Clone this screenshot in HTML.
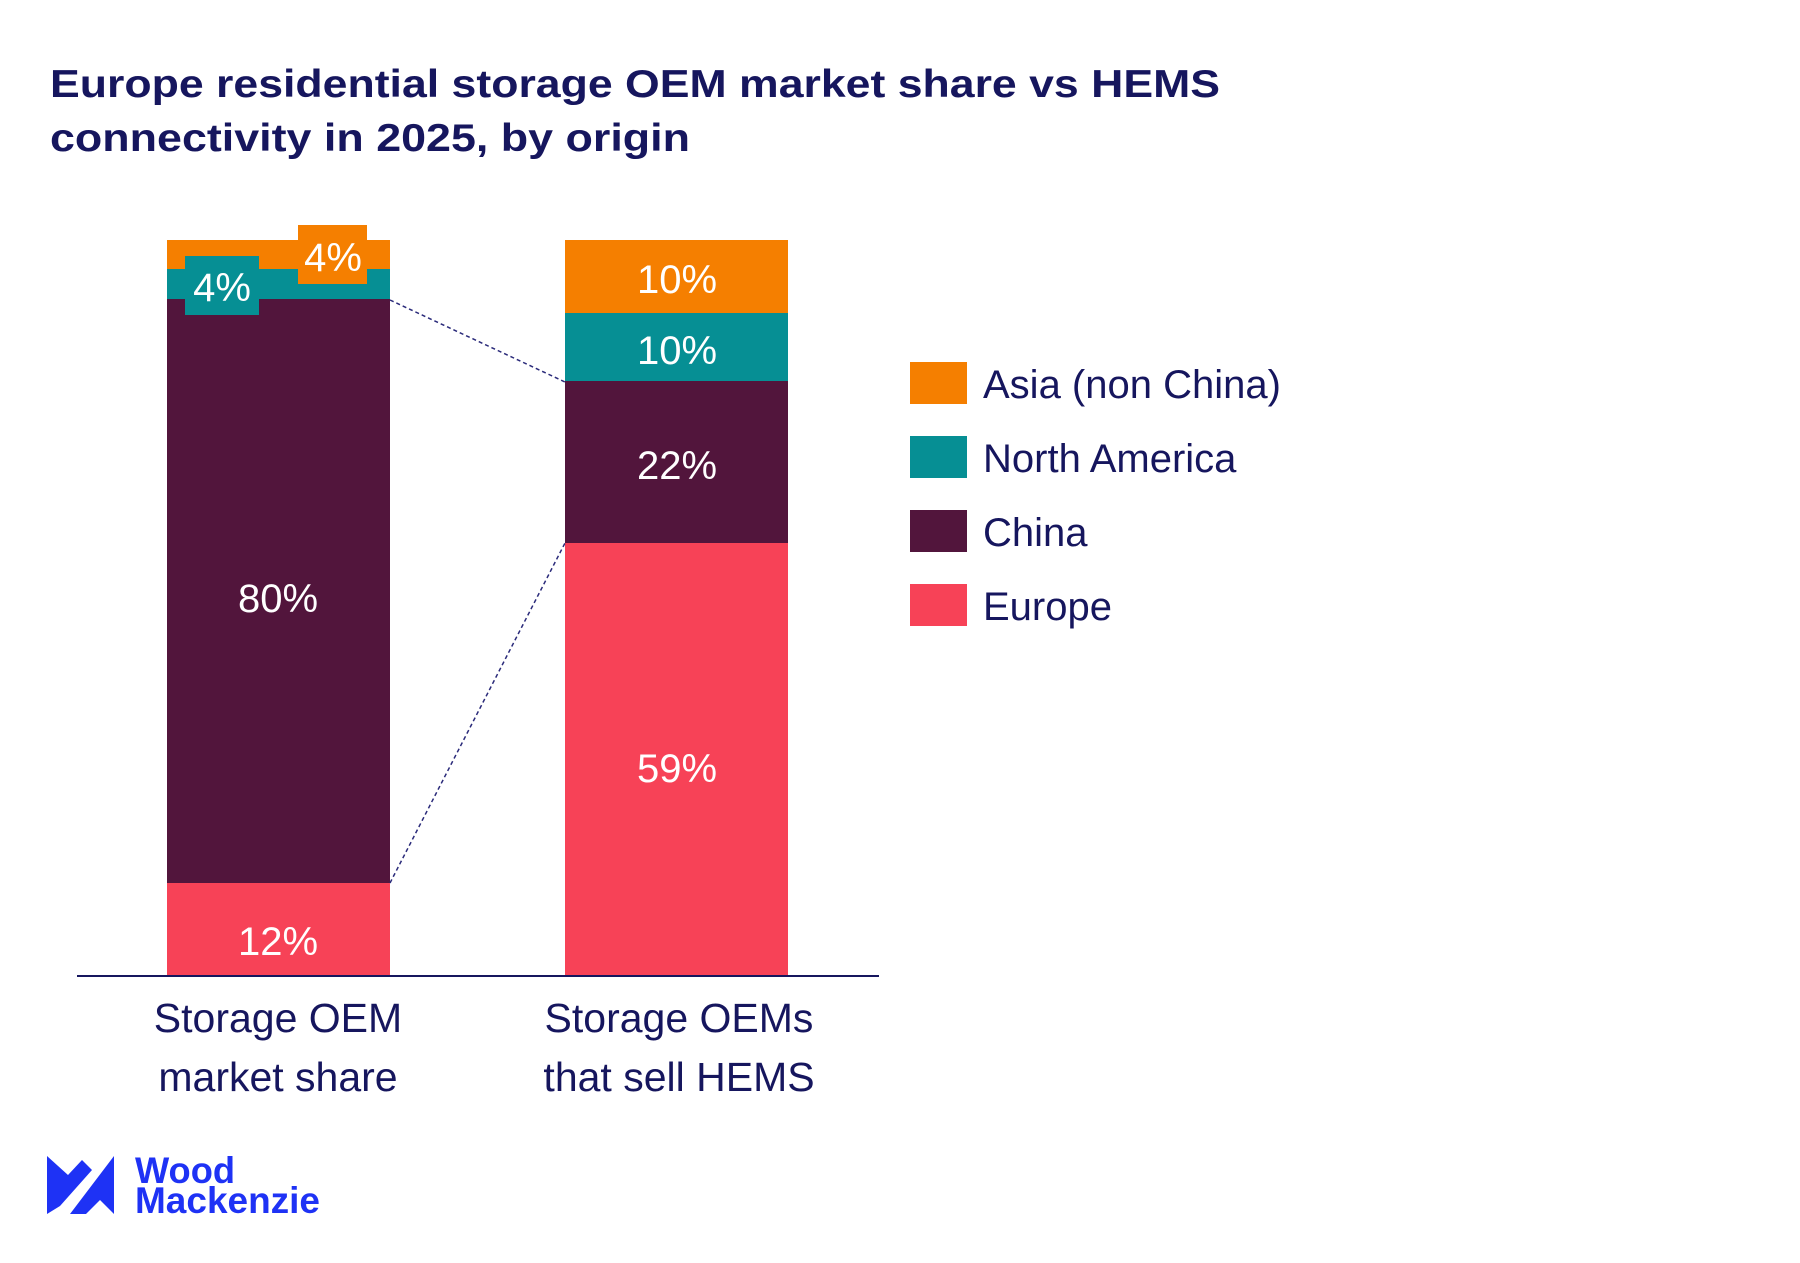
<!DOCTYPE html>
<html><head><style>
body{margin:0;background:#fff;}
svg text{font-family:"Liberation Sans",Arial,sans-serif;}
</style></head><body>
<svg width="1800" height="1258" viewBox="0 0 1800 1258" xmlns="http://www.w3.org/2000/svg">
<rect width="1800" height="1258" fill="#fff"/>
<text x="50" y="97" font-size="39" font-weight="bold" fill="#16165e" textLength="1170" lengthAdjust="spacingAndGlyphs">Europe residential storage OEM market share vs HEMS</text>
<text x="50" y="151" font-size="39" font-weight="bold" fill="#16165e" textLength="640" lengthAdjust="spacingAndGlyphs">connectivity in 2025, by origin</text>
<!-- left bar -->
<rect x="167" y="240" width="223" height="30" fill="#f57f00"/>
<rect x="167" y="269" width="223" height="31" fill="#068f94"/>
<rect x="167" y="299" width="223" height="585" fill="#52153c"/>
<rect x="167" y="883" width="223" height="92" fill="#f74257"/>
<rect x="185" y="256" width="74" height="59" fill="#068f94"/>
<rect x="298" y="225" width="69" height="59" fill="#f57f00"/>
<g fill="#fff" font-size="40" text-anchor="middle">
<text x="222" y="301">4%</text>
<text x="333" y="271">4%</text>
<text x="278" y="612">80%</text>
<text x="278" y="955">12%</text>
</g>
<!-- right bar -->
<rect x="565" y="240" width="223" height="74" fill="#f57f00"/>
<rect x="565" y="313" width="223" height="69" fill="#068f94"/>
<rect x="565" y="381" width="223" height="163" fill="#52153c"/>
<rect x="565" y="543" width="223" height="432" fill="#f74257"/>
<g fill="#fff" font-size="40" text-anchor="middle">
<text x="677" y="293">10%</text>
<text x="677" y="364">10%</text>
<text x="677" y="479">22%</text>
<text x="677" y="782">59%</text>
</g>
<line x1="390" y1="300" x2="565" y2="382" stroke="#2a2a7a" stroke-width="1.5" stroke-dasharray="4,3"/>
<line x1="390" y1="883" x2="565" y2="543" stroke="#2a2a7a" stroke-width="1.5" stroke-dasharray="4,3"/>
<line x1="77" y1="976" x2="879" y2="976" stroke="#16165e" stroke-width="2"/>
<g fill="#16165e" font-size="41" text-anchor="middle">
<text x="278" y="1032">Storage OEM</text>
<text x="278" y="1091">market share</text>
<text x="679" y="1032">Storage OEMs</text>
<text x="679" y="1091">that sell HEMS</text>
</g>
<!-- legend -->
<rect x="910" y="362" width="57" height="42" fill="#f57f00"/>
<rect x="910" y="436" width="57" height="42" fill="#068f94"/>
<rect x="910" y="510" width="57" height="42" fill="#52153c"/>
<rect x="910" y="584" width="57" height="42" fill="#f74257"/>
<g fill="#16165e" font-size="40">
<text x="983" y="398">Asia (non China)</text>
<text x="983" y="472">North America</text>
<text x="983" y="546">China</text>
<text x="983" y="620">Europe</text>
</g>
<!-- logo -->
<polygon points="47,1156 68,1175 82,1160 92,1170 60,1206 47,1214" fill="#1e32f5"/>
<polygon points="114,1156 114,1214 100,1200 86,1214 70,1214" fill="#1e32f5"/>
<text x="135" y="1183" font-size="37" font-weight="bold" fill="#1e32f5" textLength="100" lengthAdjust="spacingAndGlyphs">Wood</text>
<text x="135" y="1213" font-size="37" font-weight="bold" fill="#1e32f5" textLength="185" lengthAdjust="spacingAndGlyphs">Mackenzie</text>
</svg>
</body></html>
